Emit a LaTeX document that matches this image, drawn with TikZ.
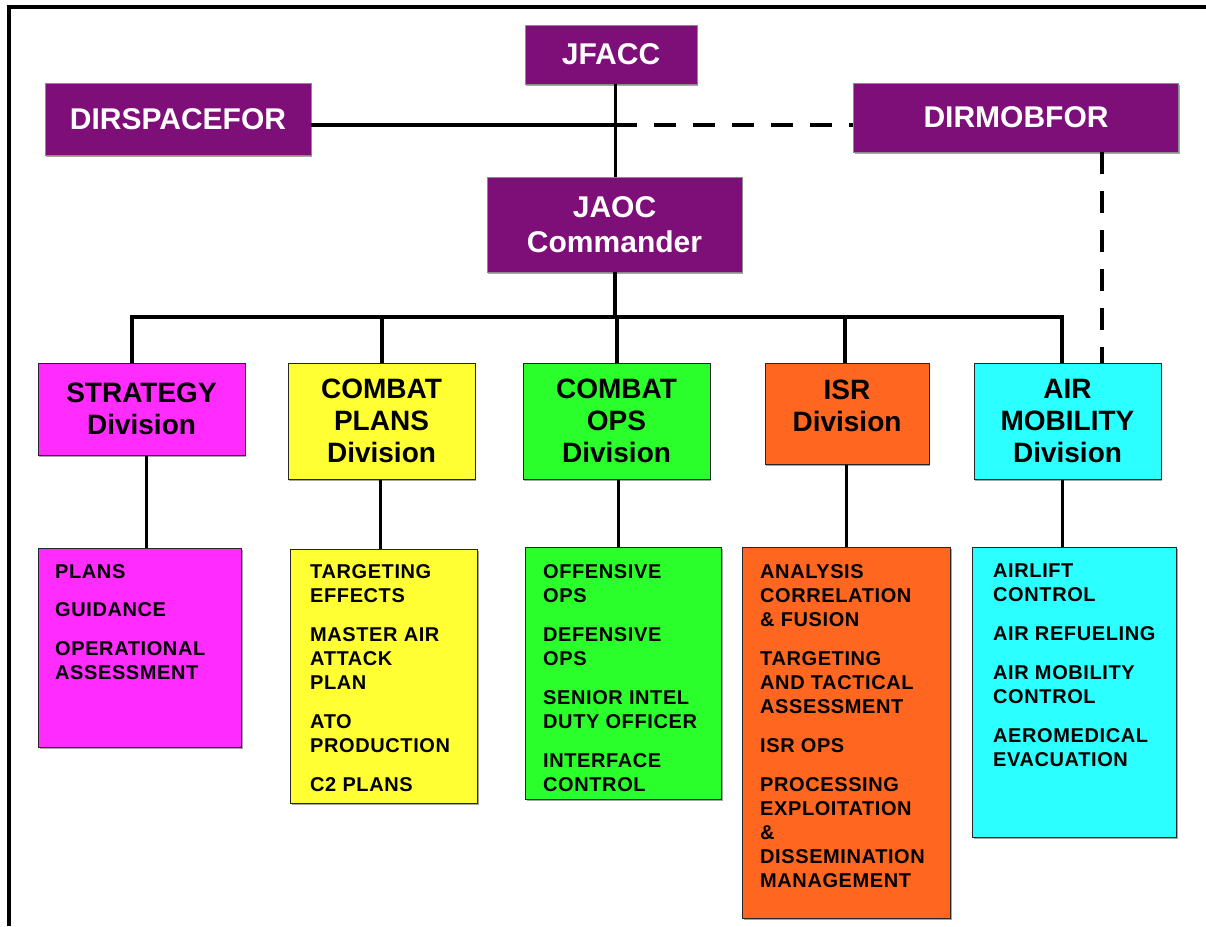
\documentclass[tikz,border=0pt]{standalone}
\usepackage{fontspec}
\setmainfont{Liberation Sans}
\newfontfamily\trackedsans[LetterSpace=3]{Liberation Sans}
\usetikzlibrary{shadows}

\definecolor{cmdpurple}{RGB}{126,14,120}
\definecolor{stratmag}{RGB}{255,43,255}
\definecolor{planyel}{RGB}{255,255,51}
\definecolor{opsgreen}{RGB}{43,255,43}
\definecolor{isrorange}{RGB}{255,103,32}
\definecolor{mobcyan}{RGB}{43,255,255}

\begin{document}
\begin{tikzpicture}[x=1pt,y=-1pt,
  boxshadow/.style={drop shadow={shadow xshift=1.2pt,shadow yshift=-1.6pt,fill=black,opacity=0.35}},
  cmdbox/.style={rectangle, fill=cmdpurple, draw=black!45, line width=0.9pt, boxshadow,
    text=white, font=\fontsize{30}{35}\selectfont\bfseries, align=center, inner sep=0pt},
  divbox/.style={rectangle, draw=black!85, line width=1pt, boxshadow,
    text=black, font=\fontsize{28}{32}\selectfont\bfseries, align=center, inner sep=0pt},
  subbox/.style={rectangle, draw=black!85, line width=1pt, boxshadow, inner sep=0pt, anchor=north west},
  subtext/.style={font=\trackedsans\fontsize{20}{24}\selectfont\bfseries, align=left, inner sep=0pt, anchor=north west},
  link/.style={line width=3.6pt, black},
  dashlink/.style={line width=4.6pt, black, dash pattern=on 22pt off 17pt},
  frameline/.style={line width=3.6pt, black}
]
\useasboundingbox (0,0) rectangle (1206,926);

% outer frame (top and left edges)
\coordinate (fbl) at (9,926);
\coordinate (ftl) at (9,7);
\coordinate (ftr) at (1206,7);
\draw[frameline] (fbl) -- (ftl) -- (ftr);

% command level
\node[cmdbox, minimum width=172pt, minimum height=59pt] (jfacc) at (611,54.5) {JFACC};
\node[cmdbox, minimum width=266pt, minimum height=72pt] (dirspace) at (178,119) {DIRSPACEFOR};
\node[cmdbox, minimum width=325pt, minimum height=69pt] (dirmob) at (1016,117.5) {DIRMOBFOR};
\node[cmdbox, minimum width=255pt, minimum height=95pt] (jaoc) at (614.5,224.5) {JAOC\\Commander};

% divisions
\node[divbox, fill=stratmag, minimum width=207pt, minimum height=92pt] (strat) at (141.5,409) {STRATEGY\\Division};
\node[divbox, fill=planyel, minimum width=187pt, minimum height=116pt] (cplans) at (381.5,421) {COMBAT\\PLANS\\Division};
\node[divbox, fill=opsgreen, minimum width=187pt, minimum height=116pt] (cops) at (616.5,421) {COMBAT\\OPS\\Division};
\node[divbox, fill=isrorange, minimum width=164pt, minimum height=101pt] (isr) at (847,413.5) {ISR\\Division\rule[-16pt]{0pt}{0pt}};
\node[divbox, fill=mobcyan, minimum width=187pt, minimum height=116pt] (airmob) at (1067.5,421) {AIR\\MOBILITY\\Division};

% division task lists
\node[subbox, fill=stratmag, minimum width=203pt, minimum height=199pt] (stratsub) at (38,548) {};
\node[subbox, fill=planyel, minimum width=187pt, minimum height=254pt] (cplanssub) at (290,549) {};
\node[subbox, fill=opsgreen, minimum width=196pt, minimum height=252pt] (copssub) at (525,547) {};
\node[subbox, fill=isrorange, minimum width=208pt, minimum height=371pt] (isrsub) at (742,547) {};
\node[subbox, fill=mobcyan, minimum width=204pt, minimum height=290pt] (airmobsub) at (972,547) {};

\node[subtext] (stratlist) at (55,564)
  {PLANS\\[14pt]GUIDANCE\\[15pt]OPERATIONAL\\ASSESSMENT};
\node[subtext] (cplanslist) at (310,564)
  {TARGETING\\EFFECTS\\[15pt]MASTER AIR\\ATTACK\\PLAN\\[15pt]ATO\\PRODUCTION\\[15pt]C2 PLANS};
\node[subtext] (copslist) at (543,564)
  {OFFENSIVE\\OPS\\[15pt]DEFENSIVE\\OPS\\[15pt]SENIOR INTEL\\DUTY OFFICER\\[15pt]INTERFACE\\CONTROL};
\node[subtext] (isrlist) at (760,564)
  {ANALYSIS\\CORRELATION\\\&~FUSION\\[15pt]TARGETING\\AND TACTICAL\\ASSESSMENT\\[15pt]ISR OPS\\[15pt]PROCESSING\\EXPLOITATION\\\&\\DISSEMINATION\\MANAGEMENT};
\node[subtext] (airmoblist) at (993,564)
  {AIRLIFT\\CONTROL\\[15pt]AIR REFUELING\\[15pt]AIR MOBILITY\\CONTROL\\[15pt]AEROMEDICAL\\EVACUATION};

% junction points
\coordinate (hub) at (615,125);
\coordinate (mobx) at (1102,0);
\coordinate (d1) at (132,317);
\coordinate (d2) at (382,317);
\coordinate (d3) at (617,317);
\coordinate (d4) at (845,317);
\coordinate (d5) at (1062,317);
\coordinate (s1) at (146,0);
\coordinate (s2) at (380,0);
\coordinate (s3) at (618,0);
\coordinate (s4) at (846,0);
\coordinate (s5) at (1062,0);

% command connectors
\draw[link] (dirspace.east |- hub) -- (hub);
\draw[dashlink] (hub) -- (hub -| dirmob.west);
\draw[link, line width=3pt] (hub |- jfacc.south) -- (hub |- jaoc.north);
\draw[dashlink, line width=4pt] (dirmob.south -| mobx) -- (airmob.north -| mobx);

% bus to divisions
\draw[link] (jaoc.south -| hub) -- (hub |- d1);
\draw[link, line cap=rect] (d1) -- (d5);
\draw[link] (d1) -- (d1 |- strat.north);
\draw[link] (d2) -- (d2 |- cplans.north);
\draw[link] (d3) -- (d3 |- cops.north);
\draw[link] (d4) -- (d4 |- isr.north);
\draw[link] (d5) -- (d5 |- airmob.north);

% divisions to task lists
\draw[link, line width=3pt] (strat.south -| s1) -- (stratsub.north -| s1);
\draw[link, line width=3pt] (cplans.south -| s2) -- (cplanssub.north -| s2);
\draw[link, line width=3pt] (cops.south -| s3) -- (copssub.north -| s3);
\draw[link, line width=3pt] (isr.south -| s4) -- (isrsub.north -| s4);
\draw[link, line width=3pt] (airmob.south -| s5) -- (airmobsub.north -| s5);
\end{tikzpicture}
\end{document}
